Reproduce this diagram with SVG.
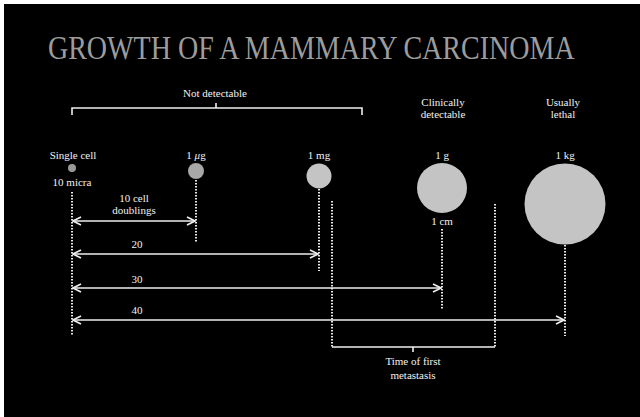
<svg xmlns="http://www.w3.org/2000/svg" width="640" height="417" viewBox="0 0 640 417">
<defs>
<style>
.t{font-family:"Liberation Serif","Times New Roman",serif;fill:#f2f2f2;font-size:11px;text-anchor:middle}
.title{font-family:"Liberation Serif","Times New Roman",serif;fill:#9c9c9c;font-size:33px}
.dot{stroke:#e8e8e8;stroke-width:2;stroke-dasharray:1.6 1.4;fill:none}
.ln{stroke:#eeeeee;stroke-width:1.6;fill:none}
.ball{fill:#c4c4c4}
</style>
<marker id="ah" viewBox="0 0 10 10" refX="9" refY="5" markerWidth="10" markerHeight="10" markerUnits="userSpaceOnUse" orient="auto-start-reverse">
<path d="M1,1 L9,5 L1,9" fill="none" stroke="#eeeeee" stroke-width="1.6"/>
</marker>
</defs>
<rect x="0" y="0" width="640" height="417" fill="#ffffff"/>
<rect x="4" y="4" width="636" height="413" fill="#000000"/>
<text class="title" transform="scale(0.84,1)" x="57.1" y="59" textLength="627" lengthAdjust="spacingAndGlyphs">GROWTH OF A MAMMARY CARCINOMA</text>
<g id="not-detectable">
<text class="t" x="215" y="97">Not detectable</text>
<path class="ln" d="M72,115 V108 H362 V115 M216,108 V103"/>
</g>
<g id="clinically-detectable">
<text class="t" x="443" y="106">Clinically</text>
<text class="t" x="443" y="118">detectable</text>
</g>
<g id="usually-lethal">
<text class="t" x="563" y="106">Usually</text>
<text class="t" x="563" y="118">lethal</text>
</g>
<g id="single-cell">
<text class="t" x="73" y="159">Single cell</text>
<circle cx="72" cy="168" r="4" style="fill:#9a9a9a"/>
<text class="t" x="72" y="186">10 micra</text>
</g>
<g id="microgram">
<text class="t" x="196" y="159">1 <tspan font-style="italic">μ</tspan>g</text>
<circle cx="196" cy="171" r="8" style="fill:#a8a8a8"/>
</g>
<g id="milligram">
<text class="t" x="319" y="159">1 mg</text>
<circle class="ball" cx="319" cy="176" r="12.5"/>
</g>
<g id="gram">
<text class="t" x="442" y="159">1 g</text>
<circle class="ball" cx="442" cy="188" r="25"/>
<text class="t" x="442" y="225">1 cm</text>
</g>
<g id="kilogram">
<text class="t" x="565" y="159">1 kg</text>
<circle class="ball" cx="565" cy="204" r="40.5"/>
</g>
<g id="metastasis">
<path class="ln" d="M332,347 H495 M413,347 V352"/>
<text class="t" x="413" y="365">Time of first</text>
<text class="t" x="413" y="379">metastasis</text>
</g>
<g id="connectors">
<path class="dot" d="M72,192 V336"/>
<path class="dot" d="M196,180 V243"/>
<path class="dot" d="M319,189 V271"/>
<path class="dot" d="M332,201 V347"/>
<path class="dot" d="M442,229 V309"/>
<path class="dot" d="M495,204 V347"/>
<path class="dot" d="M565,245 V336"/>
<path class="ln" d="M73,221 H195" marker-start="url(#ah)" marker-end="url(#ah)"/>
<path class="ln" d="M73,254 H318" marker-start="url(#ah)" marker-end="url(#ah)"/>
<path class="ln" d="M73,288 H441" marker-start="url(#ah)" marker-end="url(#ah)"/>
<path class="ln" d="M73,320 H564" marker-start="url(#ah)" marker-end="url(#ah)"/>
<text class="t" x="134" y="202">10 cell</text>
<text class="t" x="134" y="214">doublings</text>
<text class="t" x="137" y="248">20</text>
<text class="t" x="137" y="283">30</text>
<text class="t" x="137" y="314">40</text>
</g>
</svg>
